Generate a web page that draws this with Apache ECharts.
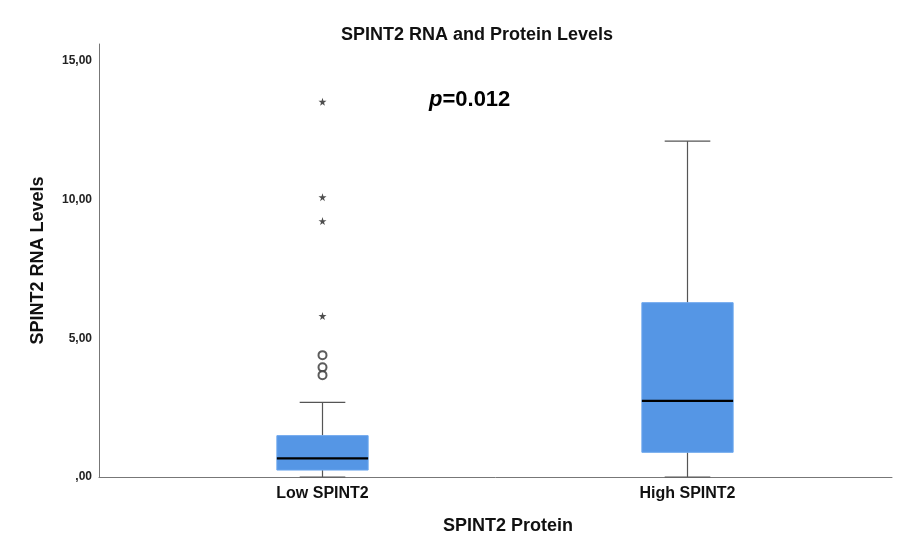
<!DOCTYPE html>
<html><head><meta charset="utf-8">
<script src="https://cdn.jsdelivr.net/npm/echarts@6/dist/echarts.min.js"></script>
<style>html,body{margin:0;padding:0;background:#fff}#c{width:907px;height:543px}</style>
</head><body><div id="c"></div>
<script>
const categories = ['Low SPINT2', 'High SPINT2'];
// [min, Q1, median, Q3, max]
const boxLow = [0, 0.25, 0.67, 1.49, 2.69];
const boxHigh = [0, 0.89, 2.74, 6.28, 12.10];
const circleOutliersLow = [4.39, 3.95, 3.67];
const starOutliersLow = [13.52, 10.08, 9.22, 5.80];
const yTicks = [0, 5, 10, 15];

const FONT = 'Liberation Sans, Arial, sans-serif';
const chart = echarts.init(document.getElementById('c'), null, {renderer: 'canvas'});
const starPath = 'path://M50,0 L61,35 L98,35 L68,57 L79,91 L50,70 L21,91 L32,57 L2,35 L39,35 Z';
const boxes = [[0].concat(boxLow), [1].concat(boxHigh)];

chart.setOption({
  animation: false,
  title: [
    {text: 'SPINT2 RNA and Protein Levels', left: 336, top: 21, textStyle: {fontFamily: FONT, fontSize: 18, fontWeight: 'bold', color: '#111'}},
    {text: '{i|p}{b|=0.012}', left: 424, top: 84, textStyle: {rich: {
      i: {fontFamily: FONT, fontSize: 22, fontWeight: 'bold', fontStyle: 'italic', color: '#000'},
      b: {fontFamily: FONT, fontSize: 22, fontWeight: 'bold', color: '#000'}}}}
  ],
  grid: [
    {left: 99, right: 15, top: 44, bottom: 66},
    {left: 140, right: 37, top: 44, bottom: 66}
  ],
  xAxis: [
    {gridIndex: 0, type: 'value', min: 0, max: 1, axisLine: {show: true, lineStyle: {color: '#777'}}, axisTick: {show: false}, axisLabel: {show: false}, splitLine: {show: false},
     name: 'SPINT2 Protein', nameLocation: 'middle', nameGap: 40, nameTextStyle: {fontFamily: FONT, fontSize: 18, fontWeight: 'bold', color: '#111', padding: [0, 0, 0, 25]}},
    {gridIndex: 1, type: 'category', data: categories, boundaryGap: true, axisLine: {show: false}, axisTick: {show: false},
     axisLabel: {fontFamily: FONT, fontSize: 16, fontWeight: 'bold', color: '#111', margin: 9}}
  ],
  yAxis: [
    {gridIndex: 0, type: 'value', min: 0, max: 15.6, interval: 5, axisLine: {show: true, lineStyle: {color: '#777'}}, axisTick: {show: false}, splitLine: {show: false},
     axisLabel: {showMaxLabel: false, fontFamily: FONT, fontSize: 12, fontWeight: 'bold', color: '#222', margin: 7,
       formatter: v => yTicks.indexOf(v) < 0 ? '' : (v === 0 ? ',00' : v.toFixed(2).replace('.', ','))},
     name: 'SPINT2 RNA Levels', nameLocation: 'middle', nameGap: 52, nameTextStyle: {fontFamily: FONT, fontSize: 18, fontWeight: 'bold', color: '#111'}},
    {gridIndex: 1, type: 'value', min: 0, max: 15.6, interval: 5, show: false}
  ],
  series: [
    {
      type: 'custom', xAxisIndex: 1, yAxisIndex: 1,
      data: boxes,
      renderItem: function (params, api) {
        const c = api.value(0);
        const bw = api.size([1, 0])[0];
        const half = bw * 0.125, capHalf = bw * 0.0625;
        const pMin = api.coord([c, api.value(1)]);
        const pQ1 = api.coord([c, api.value(2)]);
        const pMed = api.coord([c, api.value(3)]);
        const pQ3 = api.coord([c, api.value(4)]);
        const pMax = api.coord([c, api.value(5)]);
        const x = pMin[0];
        const wl = {stroke: '#555', lineWidth: 1.2};
        return {type: 'group', children: [
          {type: 'line', shape: {x1: x, y1: pQ3[1], x2: x, y2: pMax[1]}, style: wl},
          {type: 'line', shape: {x1: x, y1: pMin[1], x2: x, y2: pQ1[1]}, style: wl},
          {type: 'line', shape: {x1: x - capHalf, y1: pMax[1], x2: x + capHalf, y2: pMax[1]}, style: wl},
          {type: 'line', shape: {x1: x - capHalf, y1: pMin[1], x2: x + capHalf, y2: pMin[1]}, style: wl},
          {type: 'rect', shape: {x: x - half, y: pQ3[1], width: half * 2, height: pQ1[1] - pQ3[1]}, style: {fill: '#5596e5', stroke: '#6aa6ee', lineWidth: 1}},
          {type: 'line', shape: {x1: x - half, y1: pMed[1], x2: x + half, y2: pMed[1]}, style: {stroke: '#000', lineWidth: 2.2}}
        ]};
      }
    },
    {
      type: 'scatter', xAxisIndex: 1, yAxisIndex: 1,
      data: circleOutliersLow.map(v => [categories[0], v]),
      symbol: 'emptyCircle', symbolSize: 8,
      itemStyle: {color: '#333', borderColor: '#333', borderWidth: 1}
    },
    {
      type: 'scatter', xAxisIndex: 1, yAxisIndex: 1,
      data: starOutliersLow.map(v => [categories[0], v]),
      symbol: starPath, symbolSize: 8,
      itemStyle: {color: '#222'}
    }
  ]
});
</script></body></html>
